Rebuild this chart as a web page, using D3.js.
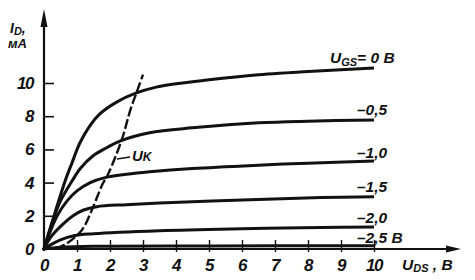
<!DOCTYPE html>
<html>
<head>
<meta charset="utf-8">
<script src="https://cdn.jsdelivr.net/npm/d3@7"></script>
<style>
  body { margin: 0; background: #fff; }
  svg text { font-family: "Liberation Sans", Arial, sans-serif; font-style: italic; font-weight: bold; fill: #111; }
</style>
</head>
<body>
<svg id="chart" width="475" height="280"></svg>
<script>
'use strict';
/*
 *	Data: U_DS (V) -> I_D (mA)
 */
var gateLabels = ["0 B", "-0,5", "-1,0", "-1,5", "-2,0", "-2,5 B"];
var curve0  = [[0,0],[0.35,2.3],[0.64,4.1],[0.85,5.2],[1.09,6.4],[1.4,7.45],[1.7,8.15],[2.2,8.85],[2.8,9.4],[3.4,9.75],[4,9.95],[5,10.2],[6.5,10.5],[8,10.7],[10,10.9]];
var curve05 = [[0,0],[0.3,1.9],[0.5,2.9],[0.85,4.1],[1.1,4.85],[1.48,5.6],[1.9,6.1],[2.3,6.5],[3.2,7.0],[4.5,7.3],[6.5,7.6],[8,7.7],[10,7.77]];
var curve10 = [[0,0],[0.2,1.1],[0.4,2.0],[0.7,2.9],[1.0,3.5],[1.4,4.0],[1.85,4.3],[2.5,4.5],[3.2,4.65],[4.5,4.85],[6.5,5.05],[8,5.17],[10,5.3]];
var curve15 = [[0,0],[0.2,0.7],[0.55,1.45],[0.88,2.0],[1.2,2.35],[1.6,2.55],[2.5,2.67],[3.5,2.77],[6,2.95],[8.4,3.1],[10,3.15]];
var curve20 = [[0,0],[0.2,0.25],[0.5,0.55],[0.9,0.8],[1.5,0.92],[3.5,1.1],[6,1.22],[8.4,1.3],[10,1.32]];
var curve25 = [[0,0],[0.5,0.1],[1.5,0.16],[5,0.18],[10,0.2]];
var curves = [curve0, curve05, curve10, curve15, curve20, curve25];
// boundary of saturation, dashed
var ukCurve = [[0.35,0],[0.7,0.35],[1.15,1.15],[1.45,2.35],[1.76,3.85],[1.94,4.5],[2.36,6.6],[2.62,8.4],[2.8,9.4],[3.0,10.5]];
var xTicks = [0,1,2,3,4,5,6,7,8,9,10];
var yTicks = [0,2,4,6,8,10];

/*
 *	Scales
 */
var svg = d3.select("#chart");
var x = d3.scaleLinear().domain([0,10]).range([44,374]);
var y = d3.scaleLinear().domain([0,10]).range([249,83]);

var line = d3.line()
	.x(function(d){ return x(d[0]); })
	.y(function(d){ return y(d[1]); })
	.curve(d3.curveCatmullRom.alpha(0.5));

// y axis, ticks pointing right
var yAxis = svg.append("g")
	.attr("transform","translate(" + x(0) + ",0)")
	.call(d3.axisLeft(y).tickValues(yTicks.slice(1)).tickSizeInner(-10).tickSizeOuter(0).tickFormat(""));
yAxis.select(".domain").remove();
yAxis.selectAll("line").attr("stroke","#111").attr("stroke-width",1.6);

// x axis, ticks crossing the line
var xAxis = svg.append("g")
	.attr("transform","translate(0," + y(0) + ")")
	.call(d3.axisBottom(x).tickValues(xTicks.slice(1)).tickSizeInner(-9).tickSizeOuter(0).tickFormat(""));
xAxis.select(".domain").remove();
xAxis.selectAll("line").attr("y2",-9).attr("y1",3).attr("stroke","#111").attr("stroke-width",1.4);

// axis lines with arrows
svg.append("line").attr("x1",x(0)).attr("y1",y(0)+2).attr("x2",x(0)).attr("y2",20)
	.attr("stroke","#111").attr("stroke-width",2.2);
svg.append("path").attr("d","M" + x(0) + ",9 L" + (x(0)-3.5) + ",27 L" + (x(0)+3.5) + ",27 Z").attr("fill","#111");
svg.append("line").attr("x1",x(0)-2).attr("y1",y(0)).attr("x2",452).attr("y2",y(0))
	.attr("stroke","#111").attr("stroke-width",2.2);
svg.append("path").attr("d","M461," + y(0) + " L446," + (y(0)-3.5) + " L446," + (y(0)+3.5) + " Z").attr("fill","#111");

// tick labels
svg.selectAll("text.ylab").data(yTicks).enter().append("text")
	.attr("class","ylab")
	.attr("x",33).attr("y",function(d){ return y(d) + 6; })
	.attr("text-anchor","end").attr("font-size",17).attr("letter-spacing",-1.5)
	.text(function(d){ return d; });
svg.selectAll("text.xlab").data(xTicks).enter().append("text")
	.attr("class","xlab")
	.attr("x",function(d){ return x(d); }).attr("y",271)
	.attr("text-anchor","middle").attr("font-size",17).attr("letter-spacing",-1.5)
	.text(function(d){ return d; });

// characteristic curves
svg.selectAll("path.curve").data(curves).enter().append("path")
	.attr("class","curve")
	.attr("d",line)
	.attr("fill","none").attr("stroke","#111").attr("stroke-width",3);

// U_K dashed curve
svg.append("path").datum(ukCurve)
	.attr("d",line)
	.attr("fill","none").attr("stroke","#111").attr("stroke-width",2.4)
	.attr("stroke-dasharray","10,3");
svg.append("line").attr("x1",117).attr("y1",159).attr("x2",130).attr("y2",157)
	.attr("stroke","#111").attr("stroke-width",1.4);
var uk = svg.append("text").attr("x",132).attr("y",161).attr("font-size",15);
uk.append("tspan").text("U");
uk.append("tspan").attr("font-size",12).text("K");

// curve labels
var labelY = [63,115,158,192,223,243];
svg.selectAll("text.glab").data(gateLabels.slice(1)).enter().append("text")
	.attr("class","glab")
	.attr("x",357).attr("y",function(d,i){ return labelY[i+1]; })
	.attr("font-size",15.5)
	.text(function(d){ return d.replace("-","\u2013"); });
var ugs = svg.append("text").attr("x",330).attr("y",labelY[0]).attr("font-size",15.5);
ugs.append("tspan").text("U");
ugs.append("tspan").attr("font-size",11).attr("dy",3).text("GS");
ugs.append("tspan").attr("dy",-3).text("= " + gateLabels[0]);

// axis titles
var id = svg.append("text").attr("x",10).attr("y",33).attr("font-size",14);
id.append("tspan").text("I");
id.append("tspan").attr("font-size",11).attr("dy",2).text("D");
id.append("tspan").attr("dy",-2).text(",");
svg.append("text").attr("x",8).attr("y",48).attr("font-size",13).text("мА");
var uds = svg.append("text").attr("x",402).attr("y",270).attr("font-size",15.5);
uds.append("tspan").text("U");
uds.append("tspan").attr("font-size",11).attr("dy",2).text("DS");
uds.append("tspan").attr("dy",-2).text(" , В");
</script>
</body>
</html>
